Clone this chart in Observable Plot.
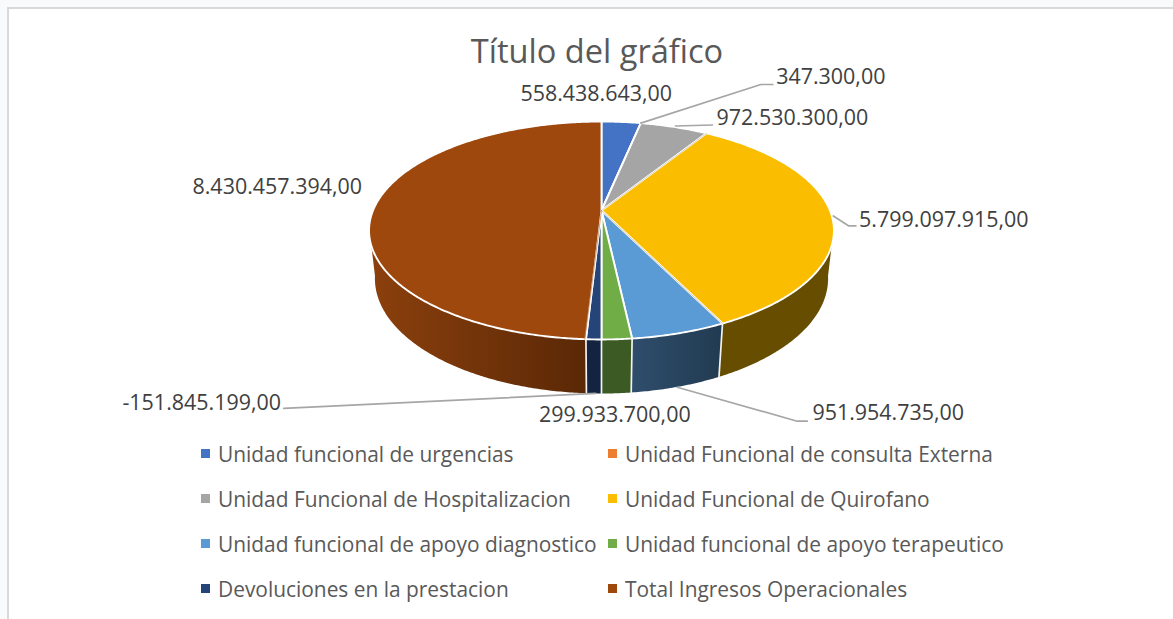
<!DOCTYPE html>
<html lang="es">
<head>
<meta charset="utf-8">
<script src="https://cdn.jsdelivr.net/npm/d3@7"></script>
<script src="https://cdn.jsdelivr.net/npm/@observablehq/plot@0.6"></script>
<style>
  html, body { margin: 0; padding: 0; background: #f9fafb; }
  body { width: 1173px; height: 619px; overflow: hidden; position: relative; font-family: "Open Sans", sans-serif; }
  #frame { position: absolute; left: 7px; top: 7px; width: 1166px; height: 612px; background: #fff;
           border-left: 2px solid #d9d9d9; border-top: 2px solid #d9d9d9; box-sizing: border-box; }
  #title { position: absolute; left: 0; top: 0; width: 1173px; height: 62px; line-height: 102px; text-align: center;
           font-size: 32.6px; color: #595959; padding-left: 21px; box-sizing: border-box; }
  #chart { position: absolute; left: 0; top: 62px; }
  #chart svg { display: block; background: transparent; }
  #legend { position: absolute; left: 201px; top: 431px; display: grid; grid-template-columns: 407px 407px; grid-auto-rows: 45px; }
  .item { display: flex; align-items: center; font-size: 20.9px; color: #595959; white-space: nowrap; }
  .sw { width: 9px; height: 9px; margin-right: 8px; flex: none; }
</style>
</head>
<body>
<div id="frame"></div>
<div id="title">Título del gráfico</div>
<div id="chart"></div>
<div id="legend"></div>
<script>
const categories = [
  "Unidad funcional de urgencias",
  "Unidad Funcional de consulta Externa",
  "Unidad Funcional de Hospitalizacion",
  "Unidad Funcional de Quirofano",
  "Unidad funcional de apoyo diagnostico",
  "Unidad funcional de apoyo terapeutico",
  "Devoluciones en la prestacion",
  "Total Ingresos Operacionales"
];
const values = [558438643, 347300, 972530300, 5799097915, 951954735, 299933700, -151845199, 8430457394];
const valueLabels = ["558.438.643,00", "347.300,00", "972.530.300,00", "5.799.097.915,00", "951.954.735,00", "299.933.700,00", "-151.845.199,00", "8.430.457.394,00"];
const colors = ["#4472c4", "#ed7d31", "#a5a5a5", "#fbbd00", "#5b9bd5", "#70ad47", "#264478", "#9e480e"];
// shaded side of each slice: left and right end of its gradient
const wallColors = [
  ["#223a64", "#223a64"], ["#77401a", "#77401a"], ["#535353", "#535353"], ["#664d00", "#664d00"],
  ["#2f4e6c", "#213b51"], ["#3c5a24", "#3c5a24"], ["#14233f", "#14233f"], ["#8c400d", "#5a2806"]
];

// ---- perspective view of the pie (unit circle, tilted towards the viewer)
const R = 228.5, K = 0.1835, B = 105.3 / R, DROP = 48.7 / R, SHRINK = 0.025;
function project(deg, low) {
  const t = deg * Math.PI / 180, u = Math.sin(t), v = -Math.cos(t);
  const w = 1 - K * v + (low ? SHRINK : 0);
  return { x: u / w, y: (B * v + (low ? DROP : 0)) / w };
}
const total = d3.sum(values, Math.abs);
let acc = 0;
const slices = values.map((v, i) => {
  const a0 = acc; acc += Math.abs(v) / total * 360;
  return { i, a0, a1: acc, mid: (a0 + acc) / 2 };
});
function angles(a0, a1, step) {
  const out = [];
  for (let a = a0; a < a1; a += step) out.push(a);
  out.push(a1);
  return out;
}

// top face polygons
const topPts = slices.flatMap(s => [
  { k: s.i, x: 0, y: 0, c: colors[s.i] },
  ...angles(s.a0, s.a1, 0.5).map(a => ({ k: s.i, ...project(a), c: colors[s.i] })),
  { k: s.i, x: 0, y: 0, c: colors[s.i] }
]);

// side walls: only the part of each slice that faces the viewer
const FRONT_FROM = 99, FRONT_TO = 261;
const wallMarks = slices.flatMap(s => {
  const a0 = Math.max(s.a0, FRONT_FROM), a1 = Math.min(s.a1, FRONT_TO);
  if (a1 <= a0) return [];
  const as = angles(a0, a1, 0.5);
  const pts = [...as.map(a => project(a)), ...as.slice().reverse().map(a => project(a, true))];
  return [Plot.line([...pts, pts[0]], { x: "x", y: "y", fill: `url(#wall${s.i})`, stroke: "none" })];
});
const wallDefs = () => {
  const svgNS = "http://www.w3.org/2000/svg";
  const defs = document.createElementNS(svgNS, "defs");
  wallColors.forEach(([c0, c1], i) => {
    const g = document.createElementNS(svgNS, "linearGradient");
    g.setAttribute("id", "wall" + i);
    [[0, c0], [1, c1]].forEach(([o, c]) => {
      const st = document.createElementNS(svgNS, "stop");
      st.setAttribute("offset", o); st.setAttribute("stop-color", c);
      g.appendChild(st);
    });
    defs.appendChild(g);
  });
  return defs;
};

// white edges on the wall at slice boundaries
const edgePts = slices.flatMap(s => {
  if (s.a0 < 100 || s.a0 > 265) return [];
  return [project(s.a0), project(s.a0, true)].map(p => ({ k: s.i, ...p }));
});

// thin slivers seen between some slices
const sliverPts = [[2, "#c9c4b4"], [3, "#c9bd9a"], [6, "#c08a60"]].flatMap(([i, c]) => {
  const a = slices[i].a1 + (i === 6 ? 0.25 : 0);
  return [{ k: i, x: 0, y: 0, c }, { k: i, ...project(a), c }];
});

// label + leader placement, as pixel offsets from each slice's rim point
const labelOffset = [[-25, -28], [190, -46], [118, -9], [112, 4], [209, 80], [-2, 76], [-392, 64], [-97, -20]];
const leaderOffset = {
  1: [[0, 0], [120, -38.6], [132, -38.6]],
  2: [[1, -1], [38, -2]],
  3: [[1.5, 0], [17, 10], [24, 10]],
  4: [[-2, 54], [118, 88], [128, 88]],
  6: [[2, 54], [-310, 69]]
};
const anchor = i => project(i === 1 ? slices[1].a0 : slices[i].mid);
const leaderPts = Object.entries(leaderOffset).flatMap(([i, pts]) =>
  pts.map(([dx, dy]) => ({ k: i, x: anchor(+i).x + dx / R, y: anchor(+i).y + dy / R })));

const marks = [
  wallDefs,
  ...wallMarks,
  Plot.line(edgePts, { x: "x", y: "y", z: "k", stroke: "#f2f2f2", strokeWidth: 1.7 }),
  Plot.line(topPts, { x: "x", y: "y", z: "k", fill: "c", stroke: "#ffffff", strokeWidth: 1.9, strokeLinejoin: "round" }),
  Plot.line(sliverPts, { x: "x", y: "y", z: "k", stroke: "c", strokeWidth: 0.8 }),
  Plot.line(leaderPts, { x: "x", y: "y", z: "k", stroke: "#a6a6a6", strokeWidth: 1.7 }),
  ...valueLabels.map((t, i) => Plot.text([t], {
    x: () => anchor(i).x, y: () => anchor(i).y, text: d => d,
    dx: labelOffset[i][0], dy: labelOffset[i][1],
    fontSize: 21.45, fill: "#404040", fontFamily: "Open Sans"
  }))
];

const TOP = 62, BOTTOM = 430;
const chart = Plot.plot({
  width: 1173, height: BOTTOM - TOP, margin: 0,
  x: { type: "linear", domain: [-601 / R, 572 / R], range: [0, 1173], axis: null },
  y: { type: "linear", domain: [(TOP - 210) / R, (BOTTOM - 210) / R], range: [0, BOTTOM - TOP], axis: null },
  style: { background: "transparent" },
  marks
});
document.getElementById("chart").appendChild(chart);

const legend = document.getElementById("legend");
categories.forEach((c, i) => {
  const d = document.createElement("div");
  d.className = "item";
  const s = document.createElement("span");
  s.className = "sw"; s.style.background = colors[i];
  const t = document.createElement("span"); t.textContent = c;
  d.append(s, t); legend.appendChild(d);
});
</script>
</body>
</html>
